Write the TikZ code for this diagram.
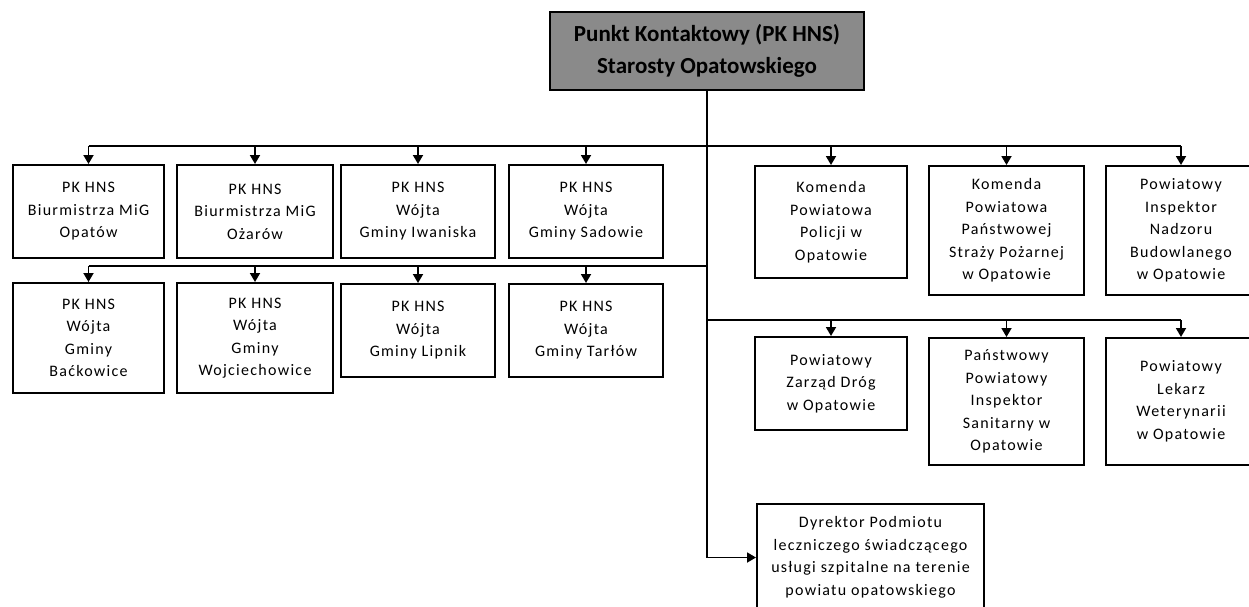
\documentclass[tikz,border=0pt]{standalone}
\usepackage{fontspec}
\setmainfont{Carlito}
\newfontfamily\boxfont[LetterSpace=8]{Carlito}
\usetikzlibrary{arrows.meta}
\begin{document}
\begin{tikzpicture}[x=1pt,y=-1pt,
  box/.style={draw=black, line width=2pt, align=center, text=black,
    font=\boxfont\fontsize{16}{22.5}\selectfont, inner sep=0pt, anchor=north west, fill=white},
  topbox/.style={box, fill=black!46, text=black, line width=2pt,
    font=\bfseries\fontsize{23}{32}\selectfont},
  bus/.style={line width=1.8pt},
  arr/.style={line width=1.8pt, -{Triangle[width=10pt,length=9pt]}}]
\fill[white] (0,0) rectangle (1249,606);
\useasboundingbox (0,0) rectangle (1249,606);

\node[topbox, minimum width=314pt, minimum height=78pt] (top) at (549,11)
  {Punkt Kontaktowy (PK HNS)\\Starosty Opatowskiego};

\node[box, minimum width=151pt, minimum height=93pt] (b1) at (12,164) {PK HNS\\Biurmistrza MiG\\Opatów};
\node[box, minimum width=156pt, minimum height=93pt] (b2) at (176,164) {PK HNS\\Biurmistrza MiG\\Ożarów};
\node[box, minimum width=154pt, minimum height=93pt] (b3) at (340,164) {PK HNS\\Wójta\\Gminy Iwaniska};
\node[box, minimum width=154pt, minimum height=93pt] (b4) at (508,164) {PK HNS\\Wójta\\Gminy Sadowie};

\node[box, minimum width=151pt, minimum height=110pt] (c1) at (12,282) {PK HNS\\Wójta\\Gminy\\Baćkowice};
\node[box, minimum width=156pt, minimum height=110pt] (c2) at (176,282) {PK HNS\\Wójta\\Gminy\\Wojciechowice};
\node[box, minimum width=154pt, minimum height=93pt] (c3) at (340,283) {PK HNS\\Wójta\\Gminy Lipnik};
\node[box, minimum width=154pt, minimum height=93pt] (c4) at (508,283) {PK HNS\\Wójta\\Gminy Tarłów};

\node[box, minimum width=152pt, minimum height=112pt] (k1) at (754,165) {Komenda\\Powiatowa\\Policji w\\Opatowie};
\node[box, minimum width=155pt, minimum height=129pt] (k2) at (928,165) {Komenda\\Powiatowa\\Państwowej\\Straży Pożarnej\\w Opatowie};
\node[box, minimum width=150pt, minimum height=129pt] (k3) at (1105,165) {Powiatowy\\Inspektor\\Nadzoru\\Budowlanego\\w Opatowie};

\node[box, minimum width=152pt, minimum height=93pt] (r1) at (754,336) {Powiatowy\\Zarząd Dróg\\w Opatowie};
\node[box, minimum width=155pt, minimum height=127pt] (r2) at (928,337) {Państwowy\\Powiatowy\\Inspektor\\Sanitarny w\\Opatowie};
\node[box, minimum width=150pt, minimum height=127pt] (r3) at (1105,337) {Powiatowy\\Lekarz\\Weterynarii\\w Opatowie};

\node[box, minimum width=227pt, minimum height=107pt] (d) at (756,503)
  {Dyrektor Podmiotu\\leczniczego świadczącego\\usługi szpitalne na terenie\\powiatu opatowskiego};

\coordinate (busA) at (706,146);
\coordinate (busB) at (706,266);
\coordinate (busC) at (706,320);

\draw[arr] (top.south) |- (d.west);
\draw[bus] (b1.north |- busA) -- (k3.north |- busA);
\foreach \n in {b1,b2,b3,b4,k1,k2,k3} \draw[arr] (\n.north |- busA) -- (\n.north);
\draw[bus] (c1.north |- busB) -- (busB);
\foreach \n in {c1,c2,c3,c4} \draw[arr] (\n.north |- busB) -- (\n.north);
\draw[bus] (busC) -- (r3.north |- busC);
\foreach \n in {r1,r2,r3} \draw[arr] (\n.north |- busC) -- (\n.north);
\end{tikzpicture}
\end{document}
